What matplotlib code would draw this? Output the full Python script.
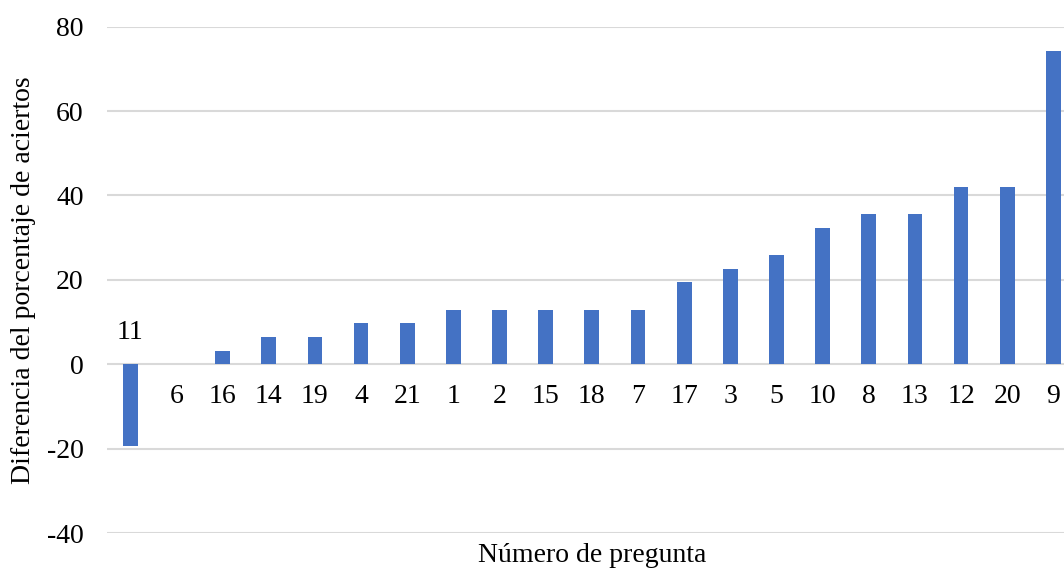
import matplotlib
matplotlib.use("Agg")
import matplotlib.pyplot as plt
import numpy as np

plt.rcParams['font.family'] = ['Liberation Serif', 'DejaVu Serif']

# Número de pregunta, ordenado por diferencia
preguntas = ['11', '6', '16', '14', '19', '4', '21', '1', '2', '15', '18',
             '7', '17', '3', '5', '10', '8', '13', '12', '20', '9']
diferencia = [-19.4, 0.0, 3.2, 6.5, 6.5, 9.7, 9.7, 12.9, 12.9, 12.9, 12.9,
              12.9, 19.4, 22.6, 25.8, 32.3, 35.5, 35.5, 41.9, 41.9, 74.2]
y_ticks = [-40, -20, 0, 20, 40, 60, 80]

fs = 20

fig = plt.figure(figsize=(10.64, 5.68), dpi=100)
# axes runs a little past the right edge, as in the original crop
ax = fig.add_axes([0.1008, 0.0616, 0.9109, 0.8914])

x = np.arange(len(preguntas))
ax.bar(x, diferencia, width=0.32, color='#4472C4', zorder=3)

ax.set_xlim(-0.5, len(preguntas) - 0.5)
ax.set_ylim(-40, 80)
ax.set_yticks(y_ticks)
ax.set_yticklabels([str(t) for t in y_ticks], fontsize=fs)
ax.set_xticks([])
ax.tick_params(axis='y', length=0, pad=17)
ax.yaxis.grid(True, color='#d9d9d9', linewidth=1.5, zorder=0)
for s in ax.spines.values():
    s.set_visible(False)

# category labels sit next to the zero line, on the side opposite the bar
for xi, v, lab in zip(x, diferencia, preguntas):
    off = 22.5 if v < 0 else -23.5
    ax.annotate(lab, (xi, 0), xytext=(0, off), textcoords='offset points',
                ha='center', va='center', fontsize=fs)

ax.set_ylabel('Diferencia del porcentaje de aciertos', fontsize=fs)
ax.yaxis.set_label_coords(-0.086, 0.5)
ax.yaxis.label.set_va('center')

ax.set_xlabel('Número de pregunta', fontsize=fs)
ax.xaxis.set_label_coords(0.5, -0.0575)
ax.xaxis.label.set_va('baseline')

fig.savefig('out.png', dpi=100)
